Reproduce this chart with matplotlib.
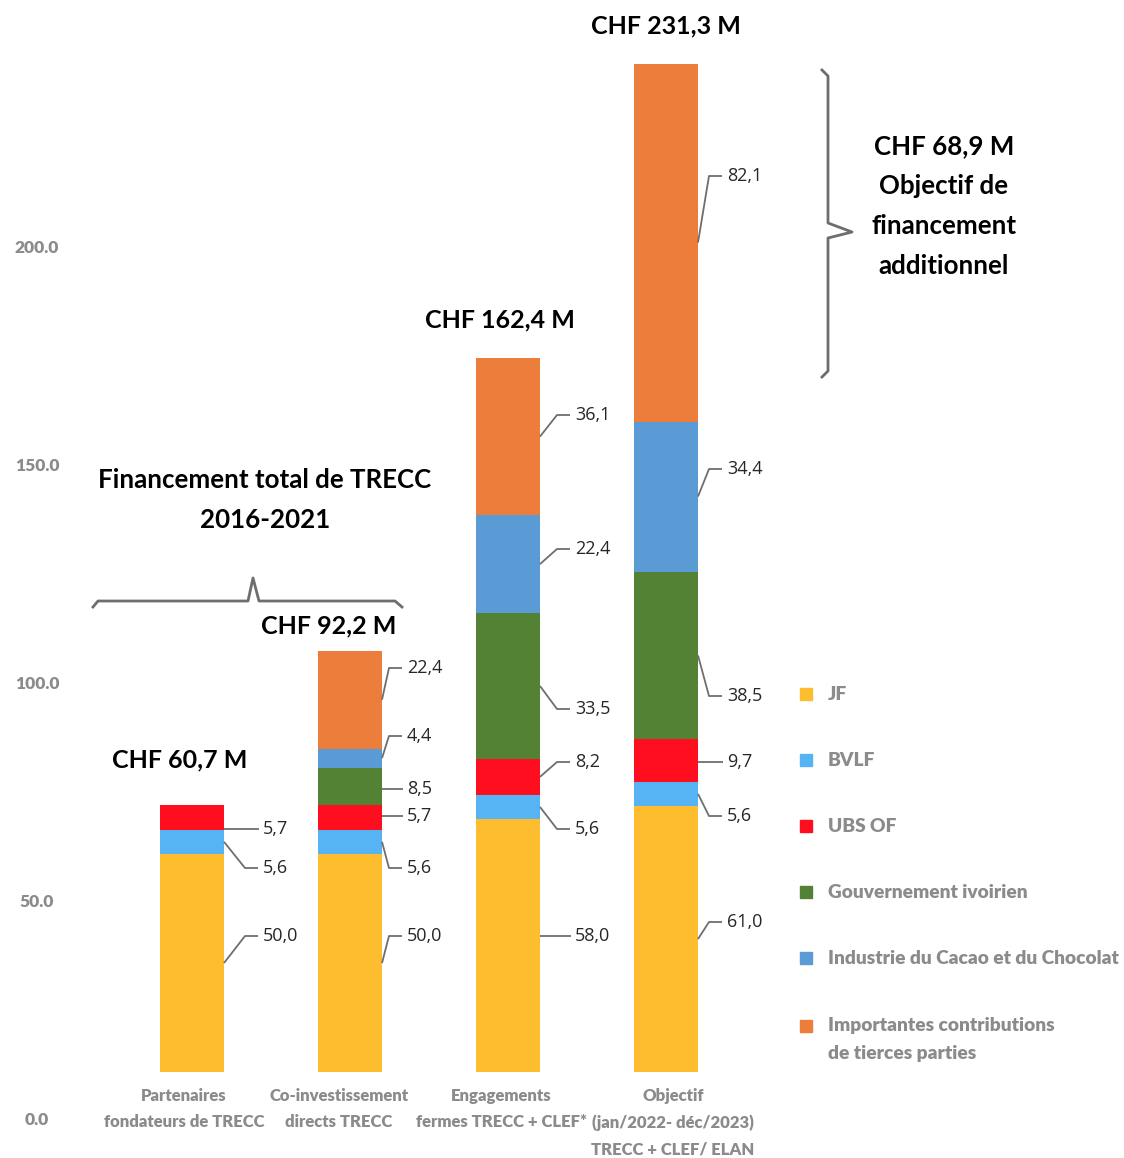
import numpy as np
import matplotlib
matplotlib.use('Agg')
from matplotlib import pyplot as plt
from matplotlib import transforms

plt.rcParams['font.family'] = ['Lato', 'DejaVu Sans']

# data
categories = ['Partenaires\nfondateurs de TRECC',
              'Co-investissement\ndirects TRECC',
              'Engagements\nfermes TRECC + CLEF*',
              'Objectif\n(jan/2022- déc/2023)\nTRECC + CLEF/ ELAN']
series = ['JF', 'BVLF', 'UBS OF', 'Gouvernement ivoirien',
          'Industrie du Cacao et du Chocolat',
          'Importantes contributions\nde tierces parties']
jf = [50.0, 50.0, 58.0, 61.0]
bvlf = [5.6, 5.6, 5.6, 5.6]
ubs = [5.7, 5.7, 8.2, 9.7]
gouv = [0, 8.5, 33.5, 38.5]
industrie = [0, 4.4, 22.4, 34.4]
tierces = [0, 22.4, 36.1, 82.1]
totals = [60.7, 92.2, 162.4, 231.3]
yticks = [0, 50, 100, 150, 200]

colors = ['#FDBD2E', '#56B4F5', '#FE0E1F', '#548235', '#5B9BD5', '#ED7D3A']
gray = '#8b8b8b'
gw = 'heavy'
W, H = 1124, 1158

fig = plt.figure(figsize=(W / 100, H / 100), dpi=100)
ax = fig.add_axes([0, 0, 1, 1])
ax.axis('off')
# pixel layout: bar centres 192 + 158*i, value 0 at y=1120, 4.36 px per unit
ax.set_xlim(-192 / 158, (W - 192) / 158)
ax.set_ylim(-(H - 1120) / 4.36, 1120 / 4.36)

def fig_px(x, y):
    return x / W, 1 - y / H

def py2v(y):
    return (1120 - y) / 4.36

x = np.arange(len(categories))
width = 0.405
base = 11.0
stack = [jf, bvlf, ubs, gouv, industrie, tierces]

# label y positions (pixels), per bar, per segment
label_py = [[936, 868, 829, None, None, None],
            [936, 868, 816, 789, 736, 668],
            [936, 829, 762, 709, 549, 415],
            [922, 816, 762, 696, 469, 176]]
text_off = [39, 25, 35, 29]

bottoms = np.full(len(categories), base)
for s, vals in enumerate(stack):
    vals = np.array(vals)
    ax.bar(x, vals, width, bottom=bottoms, color=colors[s], linewidth=0)
    for i in range(len(x)):
        if vals[i] <= 0:
            continue
        mid = bottoms[i] + vals[i] / 2
        ly = py2v(label_py[i][s])
        xr = x[i] + width / 2
        t = text_off[i]
        if abs(ly - mid) < 3:
            xs, ys = [xr, xr + (t - 4) / 158], [ly, ly]
        else:
            xs = [xr, xr + (t - 18) / 158, xr + (t - 5) / 158]
            ys = [mid, ly, ly]
        ax.plot(xs, ys, color='#6e6e6e', lw=1.3, solid_capstyle='butt')
        ax.text(xr + t / 158, ly, ('%.1f' % vals[i]).replace('.', ','),
                family=['Open Sans', 'DejaVu Sans'], fontsize=13,
                color='#262626', va='center', ha='left')
    bottoms = bottoms + vals

# totals above bars
tot_dx = [-12, -21, -8, 0]
tot_dy = [45, 25, 38, 38]
for i in range(len(x)):
    ax.annotate('CHF %s M' % ('%.1f' % totals[i]).replace('.', ','),
                (x[i], bottoms[i]), xytext=(tot_dx[i], tot_dy[i]),
                textcoords='offset pixels', ha='center', va='center',
                fontsize=18, fontweight='bold', color='black')

# y tick labels
tr = transforms.blended_transform_factory(fig.transFigure, ax.transData)
for t in yticks:
    ax.text(37 / W, t, '%.1f' % t, transform=tr, ha='center', va='center',
            fontsize=12.5, fontweight=gw, color=gray)

# category labels
cat_dx = [-8, -11, -7, 7]
for i, c in enumerate(categories):
    fx, fy = fig_px(192 + 158 * i + cat_dx[i], 1088)
    fig.text(fx, fy, c, ha='center', va='top', fontsize=12,
             fontweight=gw, color=gray, linespacing=1.8)

# legend
leg_y = [694, 760, 826, 892, 958, 1026]
for s, name in enumerate(series):
    rx, ry = fig_px(800, leg_y[s] + 6)
    fig.patches.append(plt.Rectangle((rx, ry), 12 / W, 12 / H, color=colors[s],
                                     transform=fig.transFigure, figure=fig))
    if '\n' in name:
        tx, ty = fig_px(828, leg_y[s] - 9)
        fig.text(tx, ty, name, ha='left', va='top', fontsize=13.8,
                 fontweight=gw, color=gray, linespacing=1.75)
    else:
        tx, ty = fig_px(828, leg_y[s])
        fig.text(tx, ty, name, ha='left', va='center', fontsize=13.8,
                 fontweight=gw, color=gray)

# braces
def brace(pts):
    xs = [p[0] / W for p in pts]
    ys = [1 - p[1] / H for p in pts]
    fig.add_artist(plt.Line2D(xs, ys, color='#6e6e6e', lw=2,
                              transform=fig.transFigure))

brace([(93, 607), (98, 601), (248, 601), (253, 578), (259, 601),
       (395, 601), (402, 607)])
brace([(822, 70), (828, 76), (828, 223), (852, 232), (828, 238),
       (828, 371), (822, 377)])

# annotation texts
fx, fy = fig_px(265, 500)
fig.text(fx, fy, 'Financement total de TRECC\n2016-2021', ha='center',
         va='center', fontsize=18.6, fontweight='bold', linespacing=1.8)
fx, fy = fig_px(944, 206)
fig.text(fx, fy, 'CHF 68,9 M\nObjectif de\nfinancement\nadditionnel',
         ha='center', va='center', fontsize=18.6, fontweight='bold',
         linespacing=1.8)

fig.savefig('out.png', dpi=100)
